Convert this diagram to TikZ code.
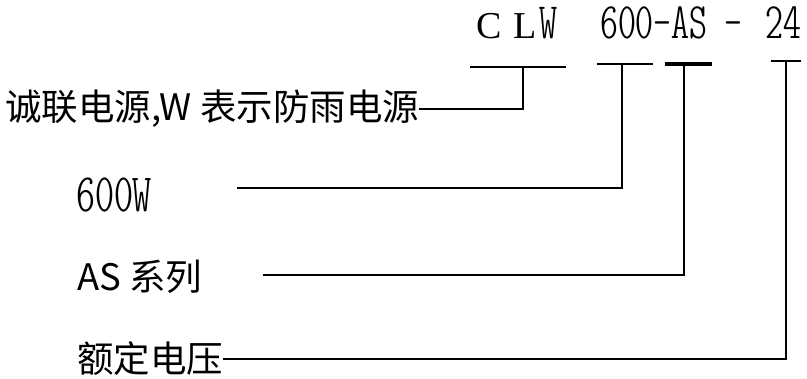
\documentclass[tikz,border=0pt]{standalone}
\usepackage{fontspec}
\usepackage{tikz}
\newfontfamily\cjkfont{Noto Sans CJK SC}
\newfontfamily\serifc{Liberation Serif}
\newfontfamily\codefont{lmmonoltcond10-regular.otf}

\begin{document}
\begin{tikzpicture}[
  x=1pt, y=-1pt,
  code/.style={font=\codefont\fontsize{51}{55}\selectfont, inner sep=0pt, anchor=base west},
  desc/.style={font=\cjkfont\fontsize{36.5}{42}\selectfont, inner sep=0pt, anchor=west},
  bar/.style={draw, line width=1.3pt},
  thickbar/.style={draw, line width=3.3pt}
  ]
\useasboundingbox (0,0) rectangle (807,379);

% Model code
\node[code] (clw) at (476,39) {{\serifc\fontsize{38}{44}\selectfont C\hspace{12pt}L}\hspace{3pt}W};
\node[code] (model) at (600,39) {600-AS};
\node[code, anchor=base] (dash) at (733,39) {-};
\node[code] (volt) at (765,39) {24};

% Descriptions
\node[desc] (brand) at (5,109) {诚联电源,W 表示防雨电源};
\node[code, anchor=west, font=\codefont\fontsize{54}{58}\selectfont] (power) at (76,195) {600W};
\node[desc] (series) at (77,277) {AS 系列};
\node[desc] (rated) at (77,359) {额定电压};

% Bars under the code
\coordinate (b1l) at (470,67); \coordinate (b1r) at (566,67); \coordinate (b1m) at (523,67);
\coordinate (b2l) at (597,64); \coordinate (b2r) at (653,64); \coordinate (b2m) at (622,64);
\coordinate (b3l) at (665,64); \coordinate (b3r) at (712,64); \coordinate (b3m) at (684,64);
\coordinate (b4l) at (771,61); \coordinate (b4r) at (801,61); \coordinate (b4m) at (786,61);
\coordinate (s2) at (237,188);
\coordinate (s3) at (263,275);

\draw[bar] (b1l) -- (b1r);
\draw[bar] (b2l) -- (b2r);
\draw[thickbar] (b3l) -- (b3r);
\draw[bar] (b4l) -- (b4r);

% Leaders
\draw[bar] (b1m) |- (brand.east);
\draw[bar] (b2m) |- (s2);
\draw[bar] (b3m) |- (s3);
\draw[bar] (b4m) |- (rated.east);

\end{tikzpicture}
\end{document}
